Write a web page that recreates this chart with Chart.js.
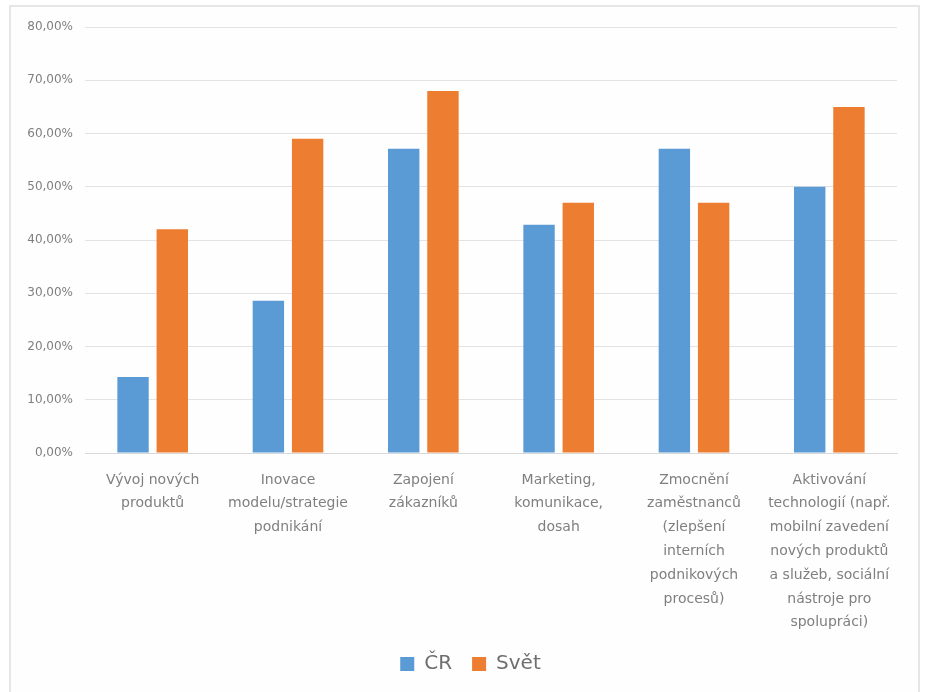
<!DOCTYPE html>
<html>
<head>
<meta charset="utf-8">
<script src="https://cdn.jsdelivr.net/npm/chart.js@4/dist/chart.umd.min.js"></script>
<style>
  html, body { margin: 0; padding: 0; background: #ffffff; }
  #wrap { position: relative; width: 925px; height: 692px; overflow: hidden; }
  #frame { position: absolute; left: 9px; top: 5px; width: 907px; height: 720px;
           border: 2px solid #e6e6e6; background: #fefefe; }
  canvas { position: absolute; left: 0; top: 0; }
</style>
</head>
<body>
<div id="wrap">
  <div id="frame"></div>
  <canvas id="c" width="925" height="692"></canvas>
</div>
<script>
const categories = [
  ['Vývoj nových', 'produktů'],
  ['Inovace', 'modelu/strategie', 'podnikání'],
  ['Zapojení', 'zákazníků'],
  ['Marketing,', 'komunikace,', 'dosah'],
  ['Zmocnění', 'zaměstnanců', '(zlepšení', 'interních', 'podnikových', 'procesů)'],
  ['Aktivování', 'technologií (např.', 'mobilní zavedení', 'nových produktů', 'a služeb, sociální', 'nástroje pro', 'spolupráci)']
];
const seriesNames = ['ČR', 'Svět'];
const crValues = [14.29, 28.57, 57.14, 42.86, 57.14, 50.0];
const svetValues = [42, 59, 68, 47, 47, 65];
const yTickLabels = ['0,00%', '10,00%', '20,00%', '30,00%', '40,00%', '50,00%', '60,00%', '70,00%', '80,00%'];

const textColor = '#7f7f7f';
const font = 'DejaVu Sans';

const legendShift = {
  id: 'legendShift',
  afterLayout(chart) {
    const lg = chart.legend;
    if (lg) { lg.left += 22; lg.right += 22; }
  }
};

new Chart(document.getElementById('c'), {
  type: 'bar',
  data: {
    labels: categories,
    datasets: [
      { label: seriesNames[0], data: crValues, backgroundColor: '#5B9BD5',
        categoryPercentage: 0.58, barPercentage: 0.8 },
      { label: seriesNames[1], data: svetValues, backgroundColor: '#ED7D31',
        categoryPercentage: 0.58, barPercentage: 0.8 }
    ]
  },
  plugins: [legendShift],
  options: {
    responsive: false,
    animation: false,
    layout: { padding: { left: 0, right: 28, top: 27, bottom: 8 } },
    plugins: {
      tooltip: { enabled: false },
      legend: {
        position: 'bottom',
        labels: {
          boxWidth: 14, boxHeight: 14, padding: 20,
          color: '#6f6f6f',
          font: { family: font, size: 20 }
        }
      }
    },
    scales: {
      x: {
        grid: { display: false, drawTicks: false },
        border: { display: true, color: '#d9d9d9', width: 1 },
        ticks: {
          color: textColor, padding: 15, maxRotation: 0, autoSkip: false,
          font: { family: font, size: 14, lineHeight: 1.7 }
        },
        afterFit: (s) => { s.height = 181; }
      },
      y: {
        min: 0, max: 80,
        grid: { color: '#e3e3e3', lineWidth: 1, drawTicks: false },
        border: { display: false },
        ticks: {
          stepSize: 10, color: textColor, padding: 12,
          font: { family: font, size: 12 },
          callback: (v, i) => yTickLabels[i]
        },
        afterFit: (s) => { s.width = 85; }
      }
    }
  }
});
</script>
</body>
</html>
